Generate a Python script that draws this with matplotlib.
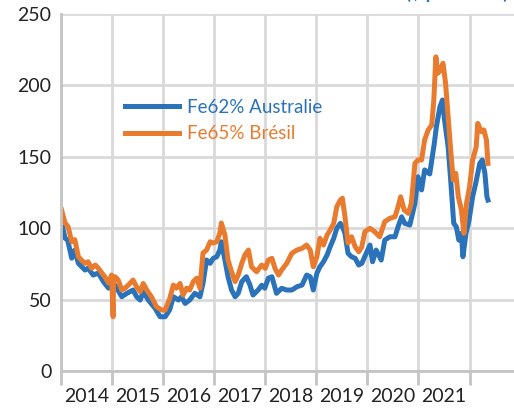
import matplotlib.pyplot as plt
import numpy as np

# readings (decimal year, $/t)
t_br = [2014.01, 2014.08, 2014.14, 2014.21, 2014.27, 2014.34, 2014.40, 2014.47, 2014.53, 2014.60,
        2014.67, 2014.73, 2014.80, 2014.86, 2014.93, 2014.99, 2015.02, 2015.03, 2015.06, 2015.12,
        2015.19, 2015.25, 2015.32, 2015.41, 2015.48, 2015.55, 2015.61, 2015.68, 2015.77, 2015.87,
        2015.97, 2016.04, 2016.13, 2016.20, 2016.26, 2016.33, 2016.39, 2016.46, 2016.52, 2016.59,
        2016.66, 2016.72, 2016.78, 2016.85, 2016.92, 2016.98, 2017.05, 2017.11, 2017.14, 2017.21,
        2017.27, 2017.34, 2017.41, 2017.47, 2017.54, 2017.60, 2017.67, 2017.73, 2017.83, 2017.93,
        2018.00, 2018.06, 2018.13, 2018.19, 2018.26, 2018.32, 2018.42, 2018.52, 2018.62, 2018.72,
        2018.81, 2018.88, 2018.94, 2019.01, 2019.07, 2019.14, 2019.21, 2019.27, 2019.34, 2019.40,
        2019.47, 2019.51, 2019.56, 2019.62, 2019.69, 2019.76, 2019.83, 2019.89, 2019.95, 2020.05,
        2020.14, 2020.24, 2020.34, 2020.44, 2020.54, 2020.60, 2020.65, 2020.72, 2020.80, 2020.86,
        2020.93, 2020.99, 2021.06, 2021.12, 2021.19, 2021.26, 2021.30, 2021.34, 2021.38, 2021.43,
        2021.48, 2021.53, 2021.58, 2021.63, 2021.68, 2021.73, 2021.78, 2021.84, 2021.89, 2021.94,
        2022.00, 2022.06, 2022.13, 2022.16, 2022.23, 2022.28, 2022.33, 2022.36]
fe65_bresil = [113, 103.6, 101, 90.5, 92, 80, 77.7, 75.4, 76.5, 71.9,
               74.2, 72, 68.6, 66, 61.6, 67.2, 38, 66, 66, 63.7,
               56.7, 57.9, 60.2, 63.7, 59, 55.5, 61.3, 56.7, 52, 45,
               42.7, 42.7, 50.9, 60.2, 58, 61.3, 53.2, 58, 56.7, 62.6,
               65, 58, 82.6, 84.7, 90.5, 89.6, 90.5, 96.6, 103.6, 95.2,
               77.7, 69.5, 62.6, 67.2, 75.4, 81.2, 84.7, 73, 69.5, 74.2,
               71.9, 77.7, 78.9, 71.9, 67.2, 70.7, 75.4, 82.4, 84.7, 85.9,
               88.2, 84.7, 73, 80, 92.9, 88.2, 95.2, 98.7, 103.4, 115,
               119.7, 121, 108, 89.6, 94, 87, 83.5, 87, 97.6, 99.9,
               97.6, 94, 104.6, 106.9, 108, 115, 122, 112.7, 110.4, 117.4,
               145.4, 147.8, 147.8, 161.8, 168.8, 172.3, 189.8, 220, 208.5, 210.8,
               215.5, 201.4, 178, 154.8, 133.8, 138.4, 122, 112.7, 96.4, 117.4,
               129, 147.8, 157, 173.4, 167.6, 168.8, 161.8, 145.4]

t_au = [2014.01, 2014.03, 2014.08, 2014.13, 2014.21, 2014.27, 2014.34, 2014.47, 2014.53, 2014.63,
        2014.73, 2014.83, 2014.93, 2014.99, 2015.06, 2015.19, 2015.29, 2015.41, 2015.48, 2015.55,
        2015.61, 2015.71, 2015.84, 2015.94, 2016.04, 2016.13, 2016.20, 2016.30, 2016.36, 2016.43,
        2016.52, 2016.62, 2016.72, 2016.78, 2016.85, 2016.92, 2016.98, 2017.05, 2017.11, 2017.14,
        2017.21, 2017.27, 2017.34, 2017.41, 2017.47, 2017.54, 2017.63, 2017.70, 2017.76, 2017.86,
        2017.93, 2017.99, 2018.06, 2018.13, 2018.22, 2018.32, 2018.42, 2018.52, 2018.62, 2018.72,
        2018.81, 2018.88, 2018.94, 2019.01, 2019.07, 2019.14, 2019.21, 2019.27, 2019.34, 2019.40,
        2019.47, 2019.51, 2019.56, 2019.62, 2019.69, 2019.76, 2019.83, 2019.89, 2019.99, 2020.05,
        2020.10, 2020.17, 2020.27, 2020.34, 2020.44, 2020.54, 2020.60, 2020.67, 2020.73, 2020.83,
        2020.93, 2020.99, 2021.06, 2021.12, 2021.22, 2021.29, 2021.31, 2021.35, 2021.42, 2021.47,
        2021.51, 2021.58, 2021.63, 2021.69, 2021.74, 2021.79, 2021.84, 2021.87, 2021.93, 2021.99,
        2022.06, 2022.12, 2022.20, 2022.25, 2022.30, 2022.34, 2022.36]
fe62_australie = [101, 101, 93, 91.7, 79, 84.7, 75.4, 70.7, 72, 67.2,
                  68.6, 62.6, 58, 60.2, 60, 52, 54.4, 56.7, 52, 49.7,
                  55.5, 49.7, 44, 38, 38, 43, 52, 49.7, 52, 47.3,
                  49.7, 54.4, 52, 61.3, 77.7, 75.4, 78.9, 80, 84.7, 90.5,
                  77.7, 66, 56.7, 52, 54.4, 62.6, 66, 60.2, 53.2, 56.7,
                  60, 58, 65, 66, 54.4, 57.9, 56.7, 56.7, 59, 60.2,
                  67.2, 66, 56.7, 68.4, 73, 76.5, 81.2, 87, 92.9, 99.9,
                  103.4, 101, 96.4, 82.4, 80, 78.9, 74.2, 75.4, 83.5, 88.2,
                  76.5, 84.7, 77.7, 91.7, 94, 94, 101, 108, 103.4, 102.2,
                  117.4, 136, 126.8, 140.8, 138, 154.8, 159.5, 171, 185, 189.8,
                  175.8, 157, 133.8, 103.4, 101, 91.7, 96.4, 80, 96.4, 105.7,
                  122, 131.4, 145.4, 147.8, 138.4, 122, 119.7]

years = list(range(2014, 2022))

blue = '#2A73BA'
orange = '#E97B2E'
grid_c = '#D9D9D9'
axis_c = '#C4C4C4'

plt.rcParams['font.family'] = ['Lato', 'DejaVu Sans']

fig = plt.figure(figsize=(5.14, 4.08), dpi=100)
ax = fig.add_axes([61 / 514, 1 - 371 / 408, 453 / 514, 357 / 408])

ax.plot(t_au, fe62_australie, color=blue, lw=3.6, label='Fe62% Australie')
ax.plot(t_br, fe65_bresil, color=orange, lw=3.6, label='Fe65% Brésil')

ax.set_xlim(2014, 2022.87)
ax.set_ylim(0, 250)
ax.set_yticks(range(0, 251, 50))
ax.tick_params(axis='y', length=0, labelsize=14, pad=7, labelcolor='#222222')

# year boundaries as major ticks, labels centred between them
ax.set_xticks(range(2014, 2023))
ax.set_xticklabels([])
ax.set_xticks([y + 0.5 for y in years], minor=True)
ax.set_xticklabels([str(y) for y in years], minor=True)
ax.tick_params(axis='x', which='major', length=10, width=2, color=axis_c)
ax.tick_params(axis='x', which='minor', length=0, labelsize=14, pad=12, labelcolor='#222222')

ax.grid(True, which='major', color=grid_c, lw=2)
ax.set_axisbelow(True)
for s in ['top', 'right']:
    ax.spines[s].set_visible(False)
for s in ['left', 'bottom']:
    ax.spines[s].set_color(axis_c)
    ax.spines[s].set_linewidth(2)

ax.legend(loc='upper left', bbox_to_anchor=(0.104, 0.81), frameon=False, fontsize=13.5,
          labelcolor='linecolor', handlelength=2.9, handletextpad=0.4, labelspacing=0.5)

fig.text(508 / 514, 1 + 1 / 408, '(\\$ par tonne)', color=blue, fontsize=13,
         fontweight='bold', ha='right', va='baseline')

fig.savefig('out.png', dpi=100)
